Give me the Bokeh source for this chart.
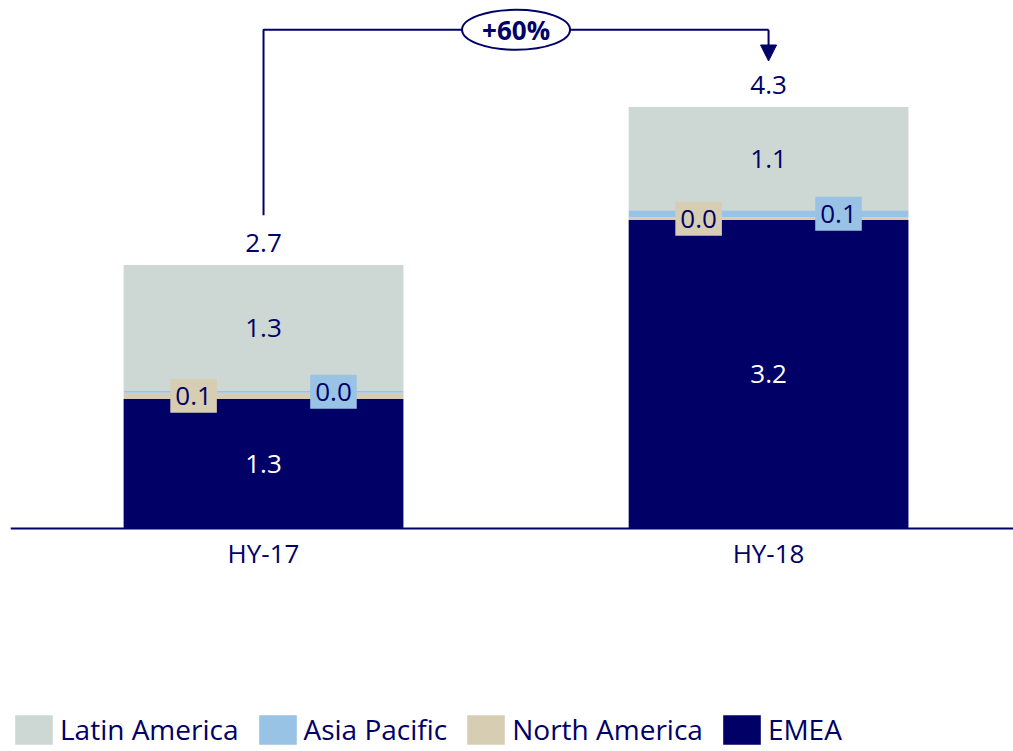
from bokeh.plotting import figure
from bokeh.models import (ColumnDataSource, Range1d, FixedTicker, Legend, LegendItem,
                          Arrow, NormalHead)
from bokeh.core.properties import value
from bokeh.embed import file_html
from bokeh.resources import INLINE

# ---------------- data ----------------
categories = ["HY-17", "HY-18"]
emea = [1.33, 3.16]
north_america = [0.06, 0.03]
asia_pacific = [0.02, 0.07]
latin_america = [1.29, 1.06]

emea_labels = ["1.3", "3.2"]
na_labels = ["0.1", "0.0"]
ap_labels = ["0.0", "0.1"]
latam_labels = ["1.3", "1.1"]
total_labels = ["2.7", "4.3"]
growth_label = "+60%"

legend_order = ["Latin America", "Asia Pacific", "North America", "EMEA"]

# ---------------- style ----------------
NAVY = "#000066"
C_EMEA = "#000066"
C_NA = "#D6CDB3"
C_AP = "#99C3E5"
C_LATAM = "#CDD8D5"
FONT = "Open Sans"
BAR_W = 0.554

xs = list(range(len(categories)))
b_na = emea[:]
b_ap = [a + b for a, b in zip(b_na, north_america)]
b_la = [a + b for a, b in zip(b_ap, asia_pacific)]
totals = [a + b for a, b in zip(b_la, latin_america)]

src = ColumnDataSource(dict(
    x=xs, emea=emea, na=north_america, ap=asia_pacific, la=latin_america,
))

p = figure(width=1013, height=751, output_backend="svg", toolbar_location=None,
           x_range=Range1d(-0.501, 1.485), y_range=Range1d(-2.285, 5.41),
           y_axis_location=None, min_border_left=10, min_border_right=0,
           min_border_top=0, min_border_bottom=0)
p.outline_line_color = None
p.xgrid.visible = False
p.ygrid.visible = False
p.background_fill_color = "white"

rs = p.vbar_stack(["emea", "na", "ap", "la"], x="x", width=BAR_W, source=src,
                  fill_color=[C_EMEA, C_NA, C_AP, C_LATAM], line_color=None)
r_by_name = dict(zip(["EMEA", "North America", "Asia Pacific", "Latin America"], rs))

# category axis drawn at the zero line
ax = p.xaxis[0]
ax.fixed_location = 0
ax.ticker = FixedTicker(ticks=xs)
ax.major_label_overrides = {i: c for i, c in zip(xs, categories)}
ax.major_tick_line_color = None
ax.minor_tick_line_color = None
ax.axis_line_color = NAVY
ax.axis_line_width = 2
ax.major_label_text_font = FONT
ax.major_label_text_font_size = "26px"
ax.major_label_text_color = NAVY
ax.major_label_standoff = 1

# large segment labels
big = ColumnDataSource(dict(
    x=xs + xs,
    y=[e / 2 for e in emea] + [b + l / 2 for b, l in zip(b_la, latin_america)],
    t=emea_labels + latam_labels,
    c=["white"] * 2 + [NAVY] * 2,
))
p.text(x="x", y="y", text="t", source=big, text_color="c", text_font=value(FONT),
       text_font_size="26px", text_align="center", text_baseline="middle")

# small segment labels with background boxes
def small(xoff, bottoms, vals, labels, color):
    s = ColumnDataSource(dict(
        x=[x + xoff for x in xs],
        y=[b + v / 2 for b, v in zip(bottoms, vals)],
        t=labels,
    ))
    p.text(x="x", y="y", text="t", source=s, text_color=NAVY, text_font=value(FONT),
           text_font_size="26px", text_align="center", text_baseline="middle",
           background_fill_color=color, padding=(5, 8))

small(-BAR_W / 4, b_na, north_america, na_labels, C_NA)
small(BAR_W / 4, b_ap, asia_pacific, ap_labels, C_AP)

# totals
tsrc = ColumnDataSource(dict(x=xs, y=totals, t=total_labels))
p.text(x="x", y="y", text="t", source=tsrc, text_color=NAVY, text_font=value(FONT),
       text_font_size="26px", text_align="center", text_baseline="middle", y_offset=-22)

# growth bracket
y_start = totals[0] + 0.51
y_top = max(totals) + 0.79
y_end = totals[1] + 0.47
p.line([xs[0], xs[0], xs[1]], [y_start, y_top, y_top], line_color=NAVY, line_width=2)
p.add_layout(Arrow(end=NormalHead(size=16, fill_color=NAVY, line_color=NAVY),
                   x_start=xs[1], y_start=y_top, x_end=xs[1], y_end=y_end,
                   line_color=NAVY, line_width=2))
xm = (xs[0] + xs[1]) / 2
p.ellipse(x=[xm], y=[y_top], width=108, height=40, width_units="screen",
          height_units="screen", fill_color="white", line_color=NAVY, line_width=2)
p.text(x=[xm], y=[y_top], text=[growth_label], text_color=NAVY, text_font=value(FONT),
       text_font_size="26px", text_font_style="bold", text_align="center",
       text_baseline="middle")

# legend
legend = Legend(items=[LegendItem(label=n, renderers=[r_by_name[n]]) for n in legend_order],
                orientation="horizontal", location=(0, 3),
                glyph_width=47, glyph_height=37, label_height=37,
                label_standoff=3, spacing=15, padding=0, margin=0,
                border_line_color=None, background_fill_alpha=0,
                label_text_font=FONT, label_text_font_size="28px",
                label_text_color=NAVY)
p.add_layout(legend)

open("out.html", "w").write(file_html(p, INLINE))
